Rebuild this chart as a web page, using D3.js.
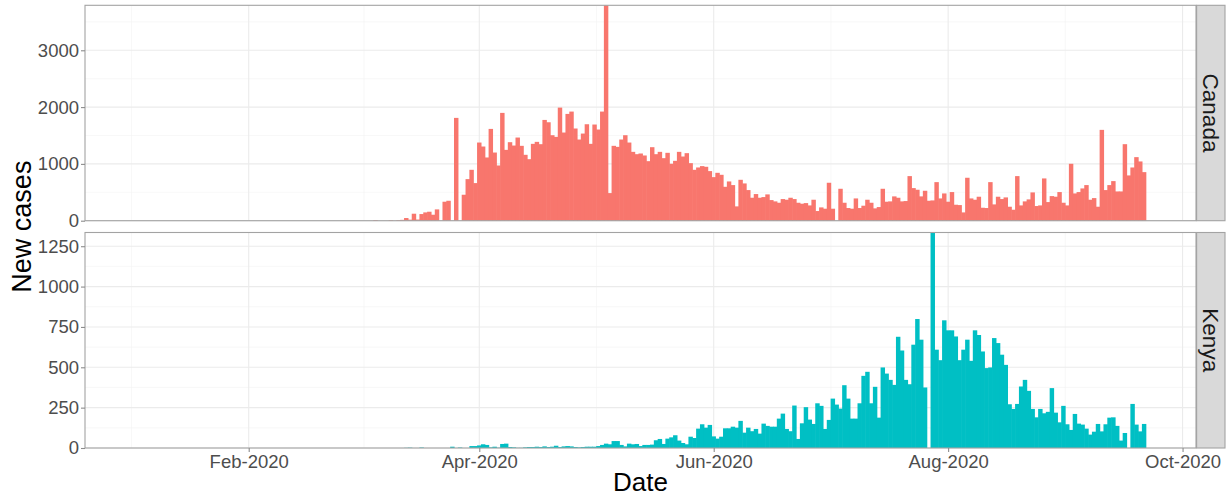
<!DOCTYPE html>
<html>
<head>
<meta charset="utf-8">
<script src="https://cdn.jsdelivr.net/npm/d3@7"></script>
<style>
  body { margin: 0; background: #fff; }
  text { font-family: "Liberation Sans", Arial, sans-serif; }
</style>
</head>
<body>
<div id="chart"></div>
<script>
// daily new cases, one value per day starting at firstDay
let firstDay = "2020-03-01";

let canadaCases = [
  0, 0, 0, 0, 12, 0, 0, 0, 10, 0,
  10, 15, 47, 18, 123, 20, 117, 146, 158, 105,
  199, 0, 334, 351, 0, 1810, 0, 457, 732, 896,
  662, 1376, 1306, 1113, 1616, 1200, 972, 1898, 1247, 1382,
  1323, 1464, 1318, 1160, 1083, 1353, 1388, 1347, 1774, 1733,
  1505, 1476, 1991, 1552, 1880, 1921, 1623, 1429, 1534, 1698,
  1353, 1693, 1605, 1921, 3792, 486, 1318, 1300, 1429, 1505,
  1376, 1212, 1171, 1183, 1148, 1048, 1294, 1171, 1212, 1101,
  1195, 1002, 1054, 1212, 1130, 1189, 1013, 896, 937, 961,
  949, 873, 767, 843, 808, 597, 691, 627, 252, 720,
  656, 539, 404, 469, 404, 416, 463, 363, 340, 316,
  381, 369, 404, 381, 316, 299, 310, 269, 369, 170,
  234, 211, 668, 211, 0, 562, 316, 223, 211, 392,
  223, 264, 369, 316, 217, 240, 562, 334, 340, 428,
  404, 340, 346, 785, 574, 545, 428, 527, 351, 357,
  679, 392, 480, 334, 504, 281, 275, 146, 756, 392,
  369, 422, 228, 223, 679, 287, 422, 381, 410, 246,
  193, 785, 269, 340, 375, 498, 258, 269, 744, 328,
  433, 422, 504, 316, 269, 1002, 480, 504, 568, 627,
  369, 398, 246, 1599, 539, 627, 697, 515, 515, 1347,
  797, 937, 1119, 1043, 855
];

let kenyaCases = [
  0, 0, 0, 0, 0, 0, 0, 0, 0, 0,
  0, 0, 1, 2, 0, 0, 3, 0, 0, 0,
  0, 0, 0, 0, 8, 0, 3, 0, 0, 12,
  12, 16, 23, 19, 4, 8, 2, 25, 27, 6,
  4, 1, 1, 4, 6, 6, 8, 6, 10, 6,
  8, 14, 6, 10, 12, 10, 6, 4, 6, 8,
  8, 8, 12, 19, 27, 23, 43, 43, 19, 10,
  27, 23, 25, 12, 19, 19, 21, 48, 56, 25,
  58, 66, 79, 46, 31, 23, 70, 62, 120, 147,
  126, 143, 72, 58, 70, 122, 122, 132, 126, 168,
  95, 126, 104, 118, 89, 151, 137, 132, 132, 182,
  213, 118, 104, 263, 56, 153, 253, 176, 149, 277,
  261, 118, 174, 306, 269, 244, 389, 306, 182, 182,
  277, 447, 472, 277, 379, 188, 499, 461, 422, 391,
  689, 604, 422, 395, 640, 799, 671, 375, 0, 1335,
  609, 544, 791, 729, 729, 691, 544, 609, 671, 540,
  729, 700, 598, 495, 499, 681, 650, 578, 515, 271,
  242, 273, 381, 422, 354, 242, 190, 242, 215, 224,
  371, 219, 159, 261, 147, 112, 211, 151, 145, 120,
  83, 101, 149, 103, 147, 188, 190, 137, 46, 93,
  0, 273, 145, 103, 149
];

let countries = ["Canada", "Kenya"];
let countryColors = ["#F8766D", "#00BFC4"];

let xTickDates = ["2020-02-01", "2020-04-01", "2020-06-01", "2020-08-01", "2020-10-01"];
let xTickLabels = ["Feb-2020", "Apr-2020", "Jun-2020", "Aug-2020", "Oct-2020"];

let canadaTicks = [0, 1000, 2000, 3000];
let kenyaTicks = [0, 250, 500, 750, 1000, 1250];

let width = 1228, height = 497;
let panelLeft = 85, panelRight = 1196;
let panels = [
  {name: countries[0], top: 5.3, bottom: 220.7, values: canadaCases, ticks: canadaTicks, color: countryColors[0]},
  {name: countries[1], top: 232.5, bottom: 448, values: kenyaCases, ticks: kenyaTicks, color: countryColors[1]}
];

let DAY = 86400000;
let parseDay = d3.utcParse("%Y-%m-%d");
let start = parseDay(firstDay);
let feb1 = parseDay("2020-02-01");

let grid_major = "#EBEBEB";
let grid_minor = "#F3F3F3";
let border_color = "#A3A3A3";

let svg = d3.select("#chart")
  .append("svg")
  .attr("width", width)
  .attr("height", height);

let xScale = d3.scaleUtc()
  .domain([new Date(feb1.getTime() - 42.6 * DAY), new Date(feb1.getTime() + 246.5 * DAY)])
  .range([panelLeft, panelRight]);

let majorX = xTickDates.map(parseDay);
// minor breaks sit half way between the major ones (plus one before Feb)
let minorX = [new Date(feb1.getTime() - 30.5 * DAY)];
for (let i = 0; i < majorX.length - 1; i++) {
  minorX.push(new Date((majorX[i].getTime() + majorX[i + 1].getTime()) / 2));
}

let barWidth = xScale(new Date(start.getTime() + DAY)) - xScale(start);

panels.forEach(function (p, pi) {
  let yScale = d3.scaleLinear()
    .domain([0, d3.max(p.values)])
    .range([p.bottom, p.top]);

  let g = svg.append("g").attr("class", "panel");

  g.append("rect")
    .attr("x", panelLeft).attr("y", p.top)
    .attr("width", panelRight - panelLeft).attr("height", p.bottom - p.top)
    .attr("fill", "#fff");

  let step = p.ticks[1] - p.ticks[0];
  let minorY = p.ticks.map(t => t + step / 2).filter(t => t < yScale.domain()[1]);

  g.selectAll(".minor-y").data(minorY).enter().append("line")
    .attr("x1", panelLeft).attr("x2", panelRight)
    .attr("y1", d => yScale(d)).attr("y2", d => yScale(d))
    .attr("stroke", grid_minor).attr("stroke-width", 0.6);

  g.selectAll(".minor-x").data(minorX).enter().append("line")
    .attr("x1", d => xScale(d)).attr("x2", d => xScale(d))
    .attr("y1", p.top).attr("y2", p.bottom)
    .attr("stroke", grid_minor).attr("stroke-width", 0.6);

  g.selectAll(".major-y").data(p.ticks).enter().append("line")
    .attr("x1", panelLeft).attr("x2", panelRight)
    .attr("y1", d => yScale(d)).attr("y2", d => yScale(d))
    .attr("stroke", grid_major).attr("stroke-width", 1.1);

  g.selectAll(".major-x").data(majorX).enter().append("line")
    .attr("x1", d => xScale(d)).attr("x2", d => xScale(d))
    .attr("y1", p.top).attr("y2", p.bottom)
    .attr("stroke", grid_major).attr("stroke-width", 1.1);

  let rows = p.values.map((v, i) => ({date: new Date(start.getTime() + i * DAY), value: v}));

  // bars a touch wider than a day so neighbours don't show seams
  g.selectAll("rect.bar")
    .data(rows.filter(d => d.value > 0))
    .enter()
    .append("rect")
    .attr("class", "bar")
    .attr("x", d => xScale(d.date) - barWidth / 2 - 0.3)
    .attr("width", barWidth + 0.6)
    .attr("y", d => yScale(d.value))
    .attr("height", d => p.bottom - yScale(d.value))
    .attr("fill", p.color);

  // left axis
  let yAxis = d3.axisLeft(yScale)
    .tickValues(p.ticks)
    .tickFormat(d3.format("d"))
    .tickSize(4)
    .tickPadding(2);

  let ay = svg.append("g")
    .attr("transform", "translate(" + panelLeft + ",0)")
    .call(yAxis);
  ay.select(".domain").remove();
  ay.selectAll(".tick line").attr("stroke", "#8C8C8C").attr("stroke-width", 1.1);
  ay.selectAll(".tick text")
    .attr("fill", "#4D4D4D")
    .style("font-size", "18.5px");

  g.append("rect")
    .attr("x", panelLeft).attr("y", p.top)
    .attr("width", panelRight - panelLeft).attr("height", p.bottom - p.top)
    .attr("fill", "none")
    .attr("stroke", border_color)
    .attr("stroke-width", 1.1);

  // facet strip on the right
  svg.append("rect")
    .attr("x", panelRight + 0.6).attr("y", p.top)
    .attr("width", 28.4).attr("height", p.bottom - p.top)
    .attr("fill", "#D9D9D9")
    .attr("stroke", border_color)
    .attr("stroke-width", 1.1);

  svg.append("text")
    .attr("transform", "translate(" + (panelRight + 14.8) + "," + ((p.top + p.bottom) / 2) + ") rotate(90)")
    .attr("text-anchor", "middle")
    .attr("dy", "0.36em")
    .attr("fill", "#1A1A1A")
    .style("font-size", "22.5px")
    .text(p.name);

  if (pi === panels.length - 1) {
    let xAxis = d3.axisBottom(xScale)
      .tickValues(majorX)
      .tickFormat((d, i) => xTickLabels[i])
      .tickSize(4)
      .tickPadding(3);
    let ax = svg.append("g")
      .attr("transform", "translate(0," + p.bottom + ")")
      .call(xAxis);
    ax.select(".domain").remove();
    ax.selectAll(".tick line").attr("stroke", "#8C8C8C").attr("stroke-width", 1.1);
    ax.selectAll(".tick text")
      .attr("fill", "#4D4D4D")
      .style("font-size", "18.5px");
  }
});

svg.append("text")
  .attr("x", (panelLeft + panelRight) / 2)
  .attr("y", 491)
  .attr("text-anchor", "middle")
  .attr("fill", "#000")
  .style("font-size", "26px")
  .text("Date");

svg.append("text")
  .attr("transform", "translate(31," + ((panels[0].top + panels[1].bottom) / 2) + ") rotate(-90)")
  .attr("text-anchor", "middle")
  .attr("fill", "#000")
  .style("font-size", "27px")
  .text("New cases");
</script>
</body>
</html>
